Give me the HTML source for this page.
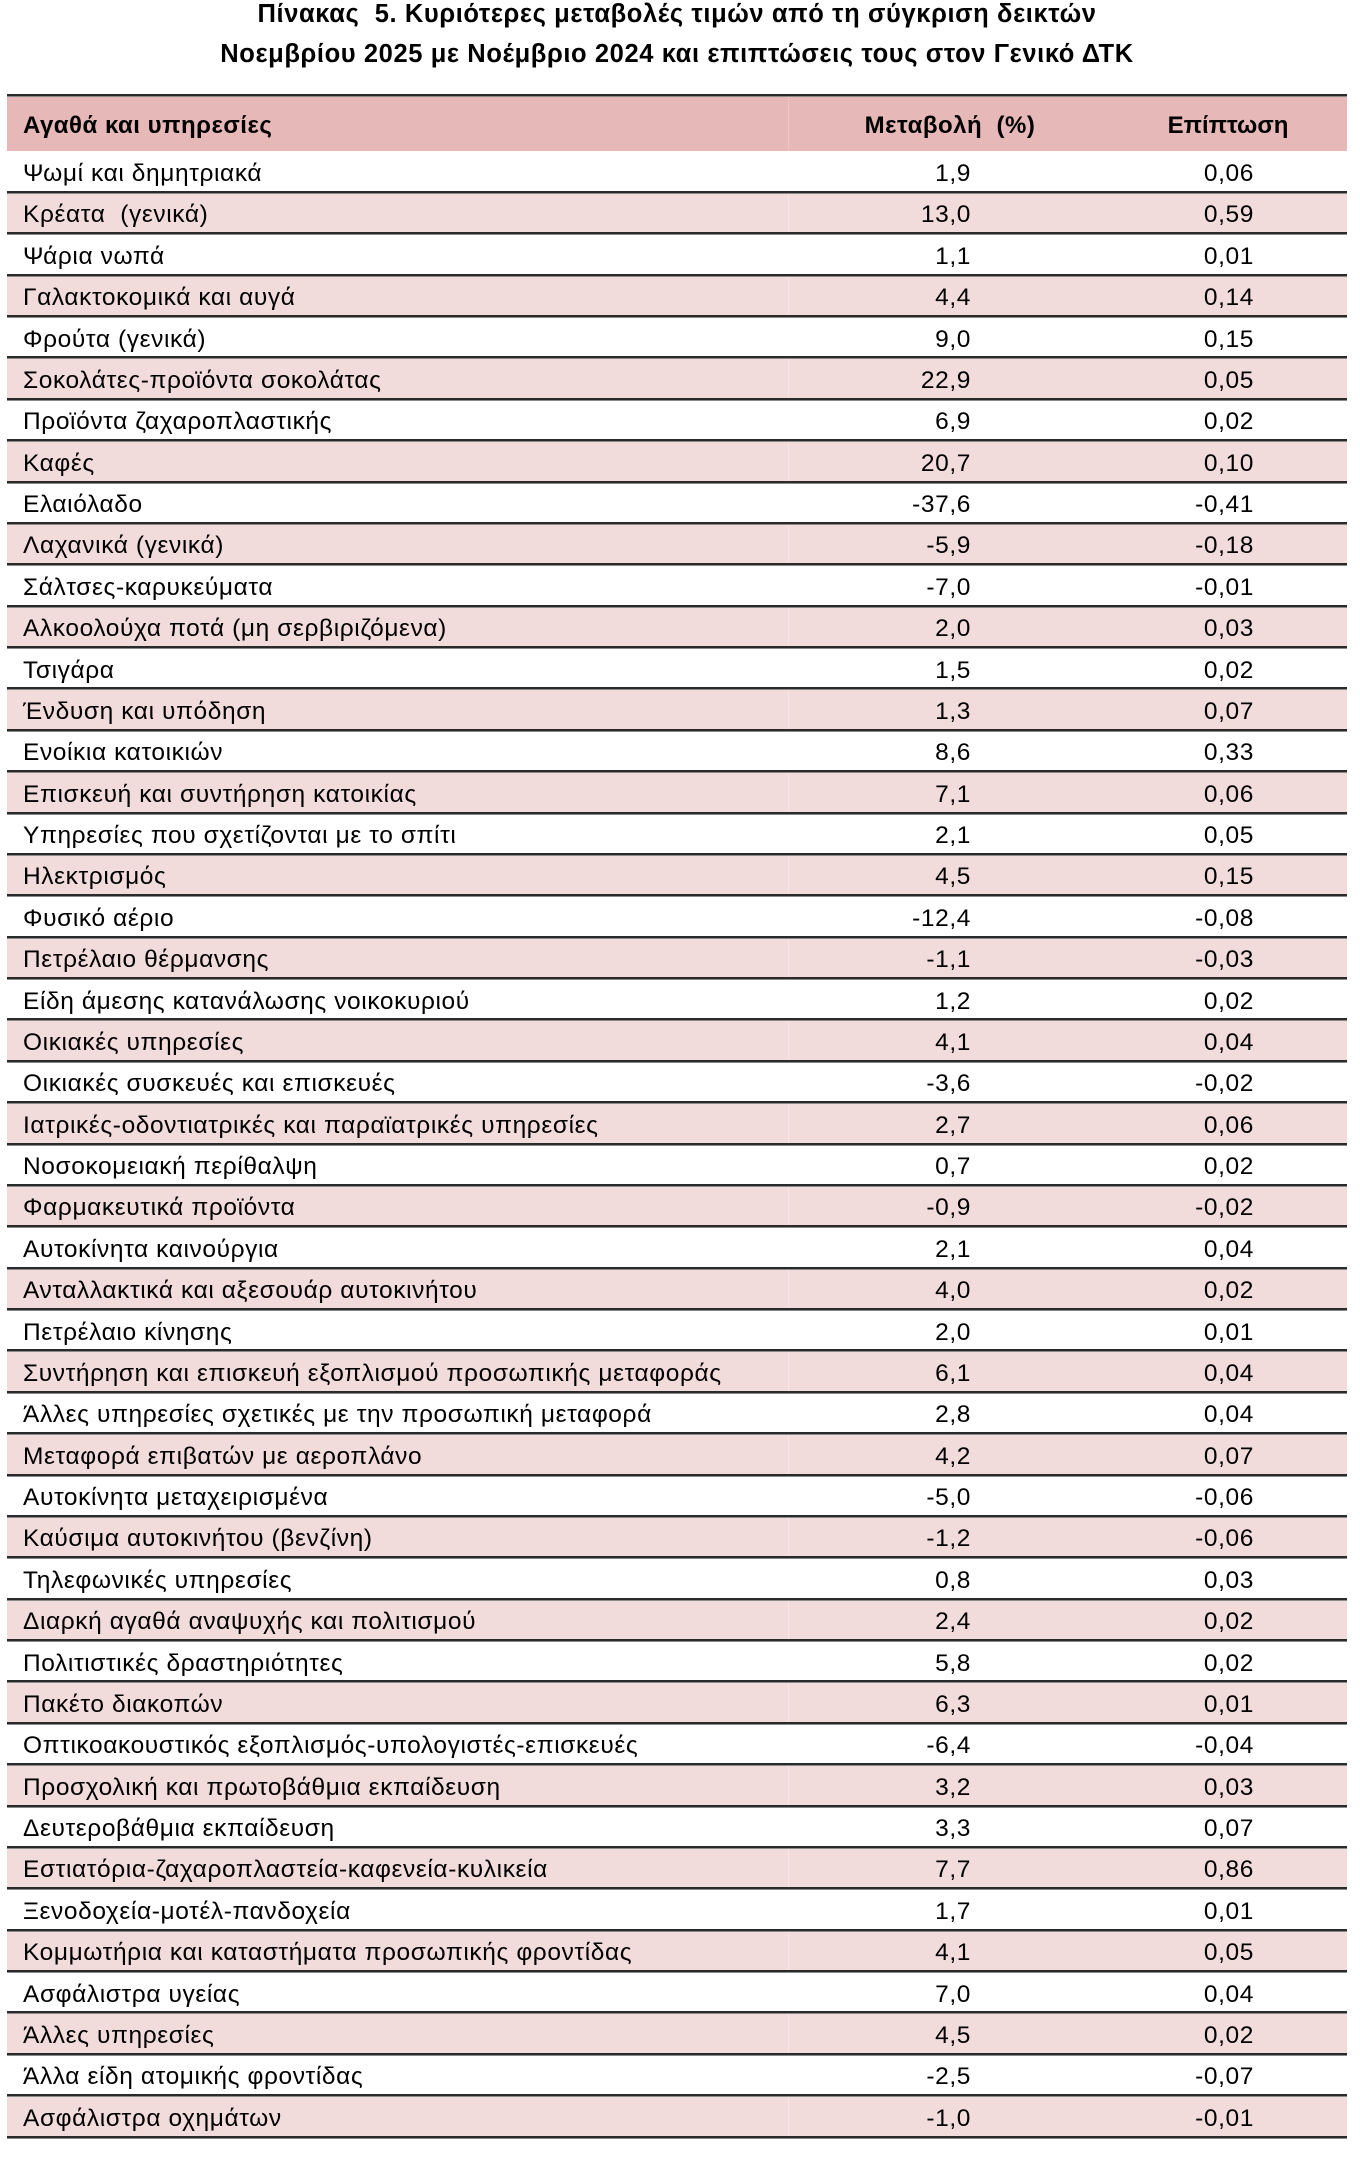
<!DOCTYPE html>
<html>
<head>
<meta charset="utf-8">
<style>
html,body{margin:0;padding:0;background:#fff;}
body{width:1360px;height:2172px;position:relative;overflow:hidden;font-family:"Liberation Sans","Noto Sans CJK SC",sans-serif;color:#000;}
.t{position:absolute;left:0;width:1354px;text-align:center;font-weight:bold;font-size:25.5px;line-height:29px;white-space:nowrap;letter-spacing:0.6px;}
.hdr{position:absolute;top:95px;left:7px;width:1340px;height:56px;background:#E6B8B7;font-weight:bold;font-size:24px;line-height:61px;letter-spacing:0.5px;}
.hdr span{position:absolute;top:0;white-space:nowrap;}
.topline{position:absolute;left:7px;width:1340px;top:93.5px;height:3px;background:linear-gradient(#2a2a2a 0 2px,#8a8a8a 2px);z-index:2;}
.rows{position:absolute;top:151px;left:7px;width:1340px;}
.r{position:relative;height:41.375px;font-size:24.5px;line-height:46px;letter-spacing:0.6px;white-space:nowrap;}
.r:nth-child(even){background:#F2DCDB;}
.r::after{content:'';position:absolute;left:0;right:0;bottom:-1.5px;height:3px;background:linear-gradient(#2a2a2a 0 2px,#8a8a8a 2px);z-index:2;}
.r:nth-child(even)::before{content:'';position:absolute;left:781px;top:0;bottom:0;width:1px;background:#f7e6e5;}
.hdr::before{content:'';position:absolute;left:781px;top:0;bottom:0;width:1px;background:#ecc6c5;}
.a{position:absolute;left:16px;top:0;}
.b{position:absolute;right:376px;top:0;}
.c{position:absolute;right:93px;top:0;}
</style>
</head>
<body>
<div class="t" style="top:0px;">Πίνακας&nbsp; 5. Κυριότερες μεταβολές τιμών από τη σύγκριση δεικτών</div>
<div class="t" style="top:40px;">Νοεμβρίου 2025 με Νοέμβριο 2024 και επιπτώσεις τους στον Γενικό ΔΤΚ</div>

<div class="topline"></div>
<div class="hdr">
  <span style="left:943px;transform:translateX(-50%);">Μεταβολή&nbsp; (%)</span>
  <span style="left:16px;">Αγαθά και υπηρεσίες</span>
  <span style="left:1221px;transform:translateX(-50%);letter-spacing:0;">Επίπτωση</span>
</div>

<div class="rows">
<div class="r"><span class="a">Ψωμί και δημητριακά</span><span class="b">1,9</span><span class="c">0,06</span></div>
<div class="r"><span class="a">Κρέατα&nbsp; (γενικά)</span><span class="b">13,0</span><span class="c">0,59</span></div>
<div class="r"><span class="a">Ψάρια νωπά</span><span class="b">1,1</span><span class="c">0,01</span></div>
<div class="r"><span class="a">Γαλακτοκομικά και αυγά</span><span class="b">4,4</span><span class="c">0,14</span></div>
<div class="r"><span class="a">Φρούτα (γενικά)</span><span class="b">9,0</span><span class="c">0,15</span></div>
<div class="r"><span class="a">Σοκολάτες-προϊόντα σοκολάτας</span><span class="b">22,9</span><span class="c">0,05</span></div>
<div class="r"><span class="a">Προϊόντα ζαχαροπλαστικής</span><span class="b">6,9</span><span class="c">0,02</span></div>
<div class="r"><span class="a">Καφές</span><span class="b">20,7</span><span class="c">0,10</span></div>
<div class="r"><span class="a">Ελαιόλαδο</span><span class="b">-37,6</span><span class="c">-0,41</span></div>
<div class="r"><span class="a">Λαχανικά (γενικά)</span><span class="b">-5,9</span><span class="c">-0,18</span></div>
<div class="r"><span class="a">Σάλτσες-καρυκεύματα</span><span class="b">-7,0</span><span class="c">-0,01</span></div>
<div class="r"><span class="a">Αλκοολούχα ποτά (μη σερβιριζόμενα)</span><span class="b">2,0</span><span class="c">0,03</span></div>
<div class="r"><span class="a">Τσιγάρα</span><span class="b">1,5</span><span class="c">0,02</span></div>
<div class="r"><span class="a">Ένδυση και υπόδηση</span><span class="b">1,3</span><span class="c">0,07</span></div>
<div class="r"><span class="a">Ενοίκια κατοικιών</span><span class="b">8,6</span><span class="c">0,33</span></div>
<div class="r"><span class="a">Επισκευή και συντήρηση κατοικίας</span><span class="b">7,1</span><span class="c">0,06</span></div>
<div class="r"><span class="a">Υπηρεσίες που σχετίζονται με το σπίτι</span><span class="b">2,1</span><span class="c">0,05</span></div>
<div class="r"><span class="a">Ηλεκτρισμός</span><span class="b">4,5</span><span class="c">0,15</span></div>
<div class="r"><span class="a">Φυσικό αέριο</span><span class="b">-12,4</span><span class="c">-0,08</span></div>
<div class="r"><span class="a">Πετρέλαιο θέρμανσης</span><span class="b">-1,1</span><span class="c">-0,03</span></div>
<div class="r"><span class="a">Είδη άμεσης κατανάλωσης νοικοκυριού</span><span class="b">1,2</span><span class="c">0,02</span></div>
<div class="r"><span class="a">Οικιακές υπηρεσίες</span><span class="b">4,1</span><span class="c">0,04</span></div>
<div class="r"><span class="a">Οικιακές συσκευές και επισκευές</span><span class="b">-3,6</span><span class="c">-0,02</span></div>
<div class="r"><span class="a">Ιατρικές-οδοντιατρικές και παραϊατρικές υπηρεσίες</span><span class="b">2,7</span><span class="c">0,06</span></div>
<div class="r"><span class="a">Νοσοκομειακή περίθαλψη</span><span class="b">0,7</span><span class="c">0,02</span></div>
<div class="r"><span class="a">Φαρμακευτικά προϊόντα</span><span class="b">-0,9</span><span class="c">-0,02</span></div>
<div class="r"><span class="a">Αυτοκίνητα καινούργια</span><span class="b">2,1</span><span class="c">0,04</span></div>
<div class="r"><span class="a">Ανταλλακτικά και αξεσουάρ αυτοκινήτου</span><span class="b">4,0</span><span class="c">0,02</span></div>
<div class="r"><span class="a">Πετρέλαιο κίνησης</span><span class="b">2,0</span><span class="c">0,01</span></div>
<div class="r"><span class="a">Συντήρηση και επισκευή εξοπλισμού προσωπικής μεταφοράς</span><span class="b">6,1</span><span class="c">0,04</span></div>
<div class="r"><span class="a">Άλλες υπηρεσίες σχετικές με την προσωπική μεταφορά</span><span class="b">2,8</span><span class="c">0,04</span></div>
<div class="r"><span class="a">Μεταφορά επιβατών με αεροπλάνο</span><span class="b">4,2</span><span class="c">0,07</span></div>
<div class="r"><span class="a">Αυτοκίνητα μεταχειρισμένα</span><span class="b">-5,0</span><span class="c">-0,06</span></div>
<div class="r"><span class="a">Καύσιμα αυτοκινήτου (βενζίνη)</span><span class="b">-1,2</span><span class="c">-0,06</span></div>
<div class="r"><span class="a">Τηλεφωνικές υπηρεσίες</span><span class="b">0,8</span><span class="c">0,03</span></div>
<div class="r"><span class="a">Διαρκή αγαθά αναψυχής και πολιτισμού</span><span class="b">2,4</span><span class="c">0,02</span></div>
<div class="r"><span class="a">Πολιτιστικές δραστηριότητες</span><span class="b">5,8</span><span class="c">0,02</span></div>
<div class="r"><span class="a">Πακέτο διακοπών</span><span class="b">6,3</span><span class="c">0,01</span></div>
<div class="r"><span class="a">Οπτικοακουστικός εξοπλισμός-υπολογιστές-επισκευές</span><span class="b">-6,4</span><span class="c">-0,04</span></div>
<div class="r"><span class="a">Προσχολική και πρωτοβάθμια εκπαίδευση</span><span class="b">3,2</span><span class="c">0,03</span></div>
<div class="r"><span class="a">Δευτεροβάθμια εκπαίδευση</span><span class="b">3,3</span><span class="c">0,07</span></div>
<div class="r"><span class="a">Εστιατόρια-ζαχαροπλαστεία-καφενεία-κυλικεία</span><span class="b">7,7</span><span class="c">0,86</span></div>
<div class="r"><span class="a">Ξενοδοχεία-μοτέλ-πανδοχεία</span><span class="b">1,7</span><span class="c">0,01</span></div>
<div class="r"><span class="a">Κομμωτήρια και καταστήματα προσωπικής φροντίδας</span><span class="b">4,1</span><span class="c">0,05</span></div>
<div class="r"><span class="a">Ασφάλιστρα υγείας</span><span class="b">7,0</span><span class="c">0,04</span></div>
<div class="r"><span class="a">Άλλες υπηρεσίες</span><span class="b">4,5</span><span class="c">0,02</span></div>
<div class="r"><span class="a">Άλλα είδη ατομικής φροντίδας</span><span class="b">-2,5</span><span class="c">-0,07</span></div>
<div class="r"><span class="a">Ασφάλιστρα οχημάτων</span><span class="b">-1,0</span><span class="c">-0,01</span></div>
</div>
</body>
</html>
